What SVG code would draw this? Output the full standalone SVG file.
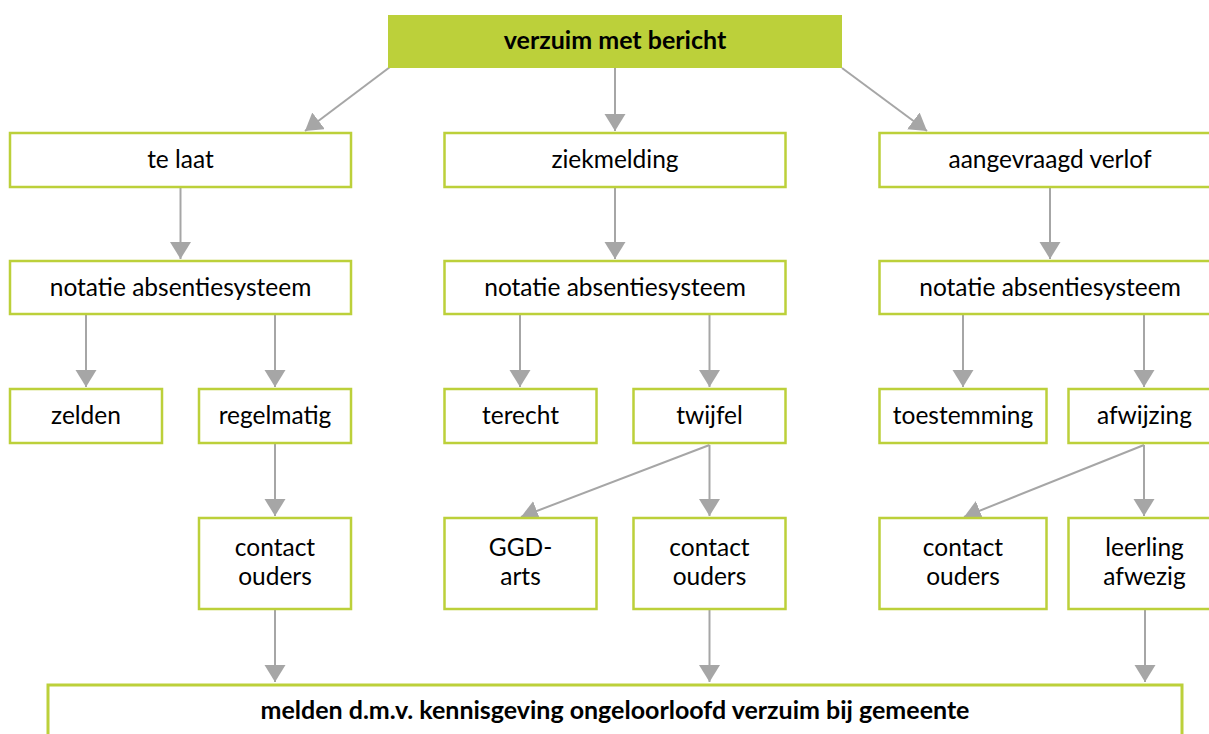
<svg xmlns="http://www.w3.org/2000/svg" width="1209" height="734" viewBox="0 0 1209 734">
<style>
.box{fill:#ffffff;stroke:#bcd03a;stroke-width:2.5}
.top{fill:#bcd03a;stroke:none}
.t{font-family:Lato,"Liberation Sans",sans-serif;font-size:24.5px;fill:#000;text-anchor:middle}
.b{font-family:Lato,"Liberation Sans",sans-serif;font-size:25px;font-weight:bold;fill:#000;text-anchor:middle}
.c{stroke:#a6a6a6;stroke-width:2;fill:none;marker-end:url(#ah)}
</style>
<defs>
<marker id="ah" markerUnits="userSpaceOnUse" markerWidth="22" markerHeight="22" refX="17" refY="10.5" orient="auto">
<path d="M0,0 L17,10.5 L0,21 Z" fill="#a6a6a6"/>
</marker>
</defs>
<g id="connectors">
<line class="c" x1="615" y1="68" x2="615" y2="131"/>
<line class="c" x1="390" y1="67" x2="305" y2="131"/>
<line class="c" x1="842" y1="68" x2="927" y2="131"/>
<line class="c" x1="180.5" y1="187" x2="180.5" y2="259"/>
<line class="c" x1="615" y1="187" x2="615" y2="259"/>
<line class="c" x1="1050" y1="187" x2="1050" y2="259"/>
<line class="c" x1="86" y1="314" x2="86" y2="387"/>
<line class="c" x1="275" y1="314" x2="275" y2="387"/>
<line class="c" x1="520" y1="314" x2="520" y2="387"/>
<line class="c" x1="709.5" y1="314" x2="709.5" y2="387"/>
<line class="c" x1="963" y1="314" x2="963" y2="387"/>
<line class="c" x1="1144" y1="314" x2="1144" y2="387"/>
<line class="c" x1="275" y1="443" x2="275" y2="516"/>
<line class="c" x1="709.5" y1="445" x2="709.5" y2="516"/>
<line class="c" x1="709.5" y1="445" x2="521" y2="517"/>
<line class="c" x1="1144" y1="445" x2="1144" y2="516"/>
<line class="c" x1="1144" y1="445" x2="964" y2="517"/>
<line class="c" x1="275" y1="609" x2="275" y2="682"/>
<line class="c" x1="709.5" y1="609" x2="709.5" y2="682"/>
<line class="c" x1="1145" y1="609" x2="1145" y2="682"/>
</g>
<g id="n-top"><rect class="top" x="388" y="15" width="454" height="53"/><text class="b" x="615" y="49">verzuim met bericht</text></g>
<g id="n-telaat"><rect class="box" x="10" y="133" width="341" height="54"/><text class="t" x="180.5" y="168">te laat</text></g>
<g id="n-ziek"><rect class="box" x="444.5" y="133" width="341" height="54"/><text class="t" x="615" y="168">ziekmelding</text></g>
<g id="n-verlof"><rect class="box" x="879.5" y="133" width="341" height="54"/><text class="t" x="1050" y="168">aangevraagd verlof</text></g>
<g id="n-not1"><rect class="box" x="10" y="261" width="341" height="53"/><text class="t" x="180.5" y="296">notatie absentiesysteem</text></g>
<g id="n-not2"><rect class="box" x="444.5" y="261" width="341" height="53"/><text class="t" x="615" y="296">notatie absentiesysteem</text></g>
<g id="n-not3"><rect class="box" x="879.5" y="261" width="341" height="53"/><text class="t" x="1050" y="296">notatie absentiesysteem</text></g>
<g id="n-zelden"><rect class="box" x="10" y="389" width="152" height="54"/><text class="t" x="86" y="424">zelden</text></g>
<g id="n-regelmatig"><rect class="box" x="199" y="389" width="152" height="54"/><text class="t" x="275" y="424">regelmatig</text></g>
<g id="n-terecht"><rect class="box" x="444.5" y="389" width="152" height="54"/><text class="t" x="520.5" y="424">terecht</text></g>
<g id="n-twijfel"><rect class="box" x="633.5" y="389" width="152" height="54"/><text class="t" x="709.5" y="424">twijfel</text></g>
<g id="n-toestemming"><rect class="box" x="879.5" y="389" width="167" height="54"/><text class="t" x="963" y="424">toestemming</text></g>
<g id="n-afwijzing"><rect class="box" x="1068.5" y="389" width="152" height="54"/><text class="t" x="1144.5" y="424">afwijzing</text></g>
<g id="n-co1"><rect class="box" x="199" y="518" width="152" height="91"/><text class="t" x="275" y="556">contact</text><text class="t" x="275" y="585">ouders</text></g>
<g id="n-ggd"><rect class="box" x="444.5" y="518" width="152" height="91"/><text class="t" x="520.5" y="556">GGD-</text><text class="t" x="520.5" y="585">arts</text></g>
<g id="n-co2"><rect class="box" x="633.5" y="518" width="152" height="91"/><text class="t" x="709.5" y="556">contact</text><text class="t" x="709.5" y="585">ouders</text></g>
<g id="n-co3"><rect class="box" x="879.5" y="518" width="167" height="91"/><text class="t" x="963" y="556">contact</text><text class="t" x="963" y="585">ouders</text></g>
<g id="n-leerling"><rect class="box" x="1068.5" y="518" width="152" height="91"/><text class="t" x="1144.5" y="556">leerling</text><text class="t" x="1144.5" y="585">afwezig</text></g>
<g id="n-melden"><rect class="box" x="48" y="685" width="1134" height="70" style="stroke-width:3"/><text class="b" x="615" y="719">melden d.m.v. kennisgeving ongeloorloofd verzuim bij gemeente</text></g>
</svg>
